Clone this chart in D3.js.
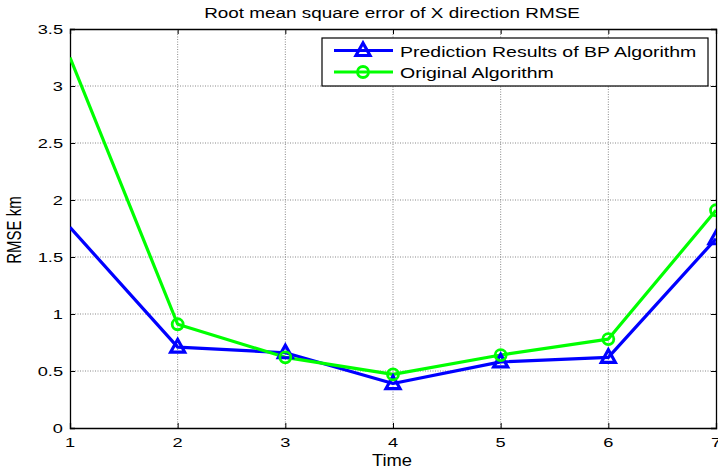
<!DOCTYPE html>
<html>
<head>
<meta charset="utf-8">
<script src="https://cdn.jsdelivr.net/npm/d3@7"></script>
<style>
  body { margin: 0; background: #fff; }
  svg { display: block; font-family: "Liberation Sans", Arial, sans-serif; }
</style>
</head>
<body>
<svg id="chart"></svg>
<script>
// chart values
const times = [1, 2, 3, 4, 5, 6, 7];
const bpValues = [1.76, 0.71, 0.66, 0.39, 0.58, 0.62, 1.66];
const originalValues = [3.25, 0.91, 0.62, 0.47, 0.64, 0.78, 1.91];
const yTicks = [0, 0.5, 1, 1.5, 2, 2.5, 3, 3.5];
const seriesNames = ['Prediction Results of BP Algorithm', 'Original Algorithm'];

const width = 718, height = 472;
const margin = {top: 29, right: 2, bottom: 44, left: 70};
const innerW = width - margin.left - margin.right;
const innerH = height - margin.top - margin.bottom;

// the source picture is stretched sideways, so text gets a horizontal scale
function stretchedText(parent, x, y, txt, size, sx, anchor) {
  return parent.append('text')
      .attr('transform', `translate(${x},${y}) scale(${sx},1)`)
      .attr('text-anchor', anchor || 'start')
      .style('font-size', size + 'px')
      .attr('fill', '#000')
      .text(txt);
}

const svg = d3.select('#chart')
    .attr('width', width)
    .attr('height', height);

const chart = svg.append('g')
    .attr('transform', `translate(${margin.left},${margin.top})`);

svg.append('defs').append('clipPath')
    .attr('id', 'plot-clip')
  .append('rect')
    .attr('width', innerW).attr('height', innerH);

const xScale = d3.scaleLinear().domain([1, 7]).range([0, innerW]);
const yScale = d3.scaleLinear().domain([0, 3.5]).range([innerH, 0]);

// grid lines (dotted)
chart.append('g')
    .selectAll('line')
    .data(times.slice(1, -1))
  .join('line')
    .attr('x1', d => xScale(d)).attr('x2', d => xScale(d))
    .attr('y1', 0).attr('y2', innerH)
    .attr('stroke', '#888').attr('stroke-width', 1)
    .attr('stroke-dasharray', '1,1.5');

chart.append('g')
    .selectAll('line')
    .data(yTicks.slice(1, -1))
  .join('line')
    .attr('y1', d => yScale(d)).attr('y2', d => yScale(d))
    .attr('x1', 0).attr('x2', innerW)
    .attr('stroke', '#888').attr('stroke-width', 1)
    .attr('stroke-dasharray', '1,1.5');

// axes with inward ticks, labels drawn separately
const xAxis = d3.axisBottom(xScale).tickValues(times).tickSize(-5).tickFormat('');
const xAxisTop = d3.axisTop(xScale).tickValues(times).tickSize(-5).tickFormat('');
const yAxis = d3.axisLeft(yScale).tickValues(yTicks).tickSize(-5).tickFormat('');
const yAxisRight = d3.axisRight(yScale).tickValues(yTicks).tickSize(-5).tickFormat('');

function styleAxis(g) {
  g.select('.domain').attr('stroke', '#000').attr('stroke-width', 1.3);
  g.selectAll('.tick line').attr('stroke', '#000');
}

chart.append('g').attr('transform', `translate(0,${innerH})`).call(xAxis).call(styleAxis);
chart.append('g').call(xAxisTop).call(styleAxis);
chart.append('g').call(yAxis).call(styleAxis);
chart.append('g').attr('transform', `translate(${innerW},0)`).call(yAxisRight).call(styleAxis);

times.forEach(t => {
  stretchedText(chart, xScale(t), innerH + 19, String(t), 13.5, 1.35, 'middle');
});
yTicks.forEach(v => {
  stretchedText(chart, -7, yScale(v) + 5, String(v), 13.5, 1.35, 'end');
});

// series lines
const line = d3.line()
    .x((d, i) => xScale(times[i]))
    .y(d => yScale(d));

const plot = chart.append('g').attr('clip-path', 'url(#plot-clip)');

plot.append('path')
    .datum(bpValues)
    .attr('d', line)
    .attr('fill', 'none')
    .attr('stroke', '#0000ff')
    .attr('stroke-width', 3.2)
    .attr('stroke-linejoin', 'round');

plot.append('path')
    .datum(originalValues)
    .attr('d', line)
    .attr('fill', 'none')
    .attr('stroke', '#00ff00')
    .attr('stroke-width', 3.2)
    .attr('stroke-linejoin', 'round');

const triangle = 'M0,-7.5L7,5L-7,5Z';

// the first markers are not visible in the source
plot.append('g')
    .selectAll('path')
    .data(bpValues.map((v, i) => ({t: times[i], v})).slice(1))
  .join('path')
    .attr('d', triangle)
    .attr('transform', d => `translate(${xScale(d.t)},${yScale(d.v)})`)
    .attr('fill', 'none')
    .attr('stroke', '#0000ff')
    .attr('stroke-width', 3.2);

plot.append('g')
    .selectAll('circle')
    .data(originalValues.map((v, i) => ({t: times[i], v})).slice(1))
  .join('circle')
    .attr('cx', d => xScale(d.t))
    .attr('cy', d => yScale(d.v))
    .attr('r', 5.5)
    .attr('fill', 'none')
    .attr('stroke', '#00ff00')
    .attr('stroke-width', 2.8);

// legend
const legend = svg.append('g');
legend.append('rect')
    .attr('x', 322).attr('y', 38)
    .attr('width', 386).attr('height', 48)
    .attr('fill', '#fff')
    .attr('stroke', '#000').attr('stroke-width', 1.2);

const legendColors = ['#0000ff', '#00ff00'];
const legendY = [50.5, 72];

seriesNames.forEach((name, i) => {
  legend.append('line')
      .attr('x1', 334).attr('x2', 393)
      .attr('y1', legendY[i]).attr('y2', legendY[i])
      .attr('stroke', legendColors[i]).attr('stroke-width', 3.2);
  if (i === 0) {
    legend.append('path')
        .attr('d', triangle)
        .attr('transform', `translate(363,${legendY[i]})`)
        .attr('fill', 'none').attr('stroke', legendColors[i]).attr('stroke-width', 3.2);
  } else {
    legend.append('circle')
        .attr('cx', 363).attr('cy', legendY[i]).attr('r', 5.5)
        .attr('fill', 'none').attr('stroke', legendColors[i]).attr('stroke-width', 2.8);
  }
  stretchedText(legend, 400, legendY[i] + 6, name, 15, 1.3);
});

// title and axis labels
stretchedText(svg, 392, 18, 'Root mean square error of X direction RMSE', 15, 1.26, 'middle');
stretchedText(svg, 392, 466, 'Time', 16, 1.15, 'middle');

svg.append('text')
    .attr('transform', 'translate(21,230) scale(1.35,1) rotate(-90)')
    .attr('text-anchor', 'middle')
    .style('font-size', '15px')
    .attr('fill', '#000')
    .text('RMSE  km');
</script>
</body>
</html>
